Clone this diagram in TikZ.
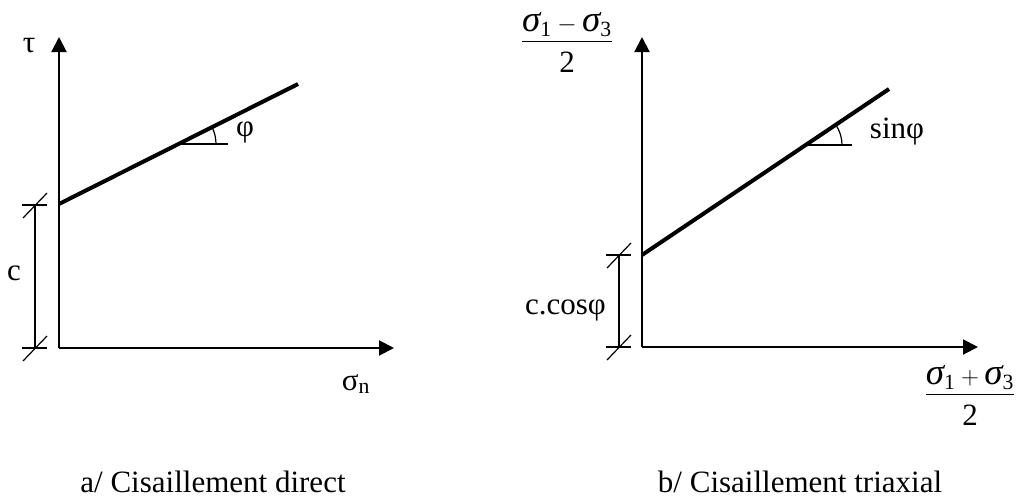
\documentclass[tikz,border=0pt]{standalone}
\usepackage{amsmath}
\usepackage{fontspec}
\setmainfont{Liberation Serif}
\usepackage{tikz}
\usetikzlibrary{positioning, arrows.meta, calc}

\newcommand{\sig}{\textit{\fontsize{37}{40}\selectfont σ}}

\begin{document}
\begin{tikzpicture}[x=1pt, y=-1pt,
    axis/.style={line width=2pt, -{Triangle[length=15pt, width=15pt]}},
    envline/.style={line width=4pt},
    dimline/.style={line width=1.2pt},
    lbl/.style={font=\fontsize{31}{36}\selectfont, inner sep=0pt}]
    \useasboundingbox (0,0) rectangle (1017,499);
    % a/ direct shear
    \coordinate (oA) at (59,348);
    \coordinate (yA) at (59,37);
    \coordinate (xA) at (394,348);
    \coordinate (cA) at (59,204);
    \coordinate (eA) at (298,84);
    \coordinate (kA) at (178,144);
    \coordinate (hA) at (228,144);
    \coordinate (dAt) at (35,205);
    \coordinate (dAb) at (35,348);
    \draw[axis] (oA) -- (yA);
    \draw[axis] (oA) -- (xA);
    \draw[envline] (cA) -- (eA);
    \draw[dimline] (kA) -- (hA);
    \draw[dimline] (kA) ++(38pt,0) arc[start angle=0, end angle=26.5, radius=38pt];
    \draw[dimline] (dAt) -- (dAb);
    \node[lbl] (tau) at (29,46) {τ};
    \node[lbl] (sn) at (356,384) {σ\textsubscript{n}};
    \node[lbl] (phi) at (245,132) {φ};
    \node[lbl] (c) at (14,273) {c};
    \node[lbl, anchor=base] (capA) at (213,492) {a/ Cisaillement direct};
    % b/ triaxial shear
    \coordinate (oB) at (642,347);
    \coordinate (yB) at (642,37);
    \coordinate (xB) at (978,347);
    \coordinate (cB) at (642,255);
    \coordinate (eB) at (889,89);
    \coordinate (kB) at (806,145);
    \coordinate (hB) at (852,145);
    \coordinate (dBt) at (619,255);
    \coordinate (dBb) at (619,347);
    \draw[axis] (oB) -- (yB);
    \draw[axis] (oB) -- (xB);
    \draw[envline] (cB) -- (eB);
    \draw[dimline] (kB) -- (hB);
    \draw[dimline] (kB) ++(36pt,0) arc[start angle=0, end angle=33.9, radius=36pt];
    \draw[dimline] (dBt) -- (dBb);
    \node[lbl, anchor=base] (tmax) at (567,48)
        {$\dfrac{\sig_{\text{1}}-\sig_{\text{3}}}{\rule{0pt}{27pt}\text{2}}$};
    \node[lbl, anchor=base] (pmean) at (970,401)
        {$\dfrac{\sig_{\text{1}}+\sig_{\text{3}}}{\rule{0pt}{27pt}\text{2}}$};
    \node[lbl] (sphi) at (897,132) {sinφ};
    \node[lbl, anchor=east] (ccos) at (606,310) {c.cosφ};
    \node[lbl, anchor=base] (capB) at (800,492) {b/ Cisaillement triaxial};
    % dimension ticks
    \foreach \p in {dAt,dAb,dBt,dBb} {
        \draw[dimline] ([xshift=-13pt]\p) -- ([xshift=12pt]\p);
        \draw[dimline] ([shift={(-12pt,-13pt)}]\p) -- ([shift={(12pt,12pt)}]\p);
    }
\end{tikzpicture}
\end{document}
